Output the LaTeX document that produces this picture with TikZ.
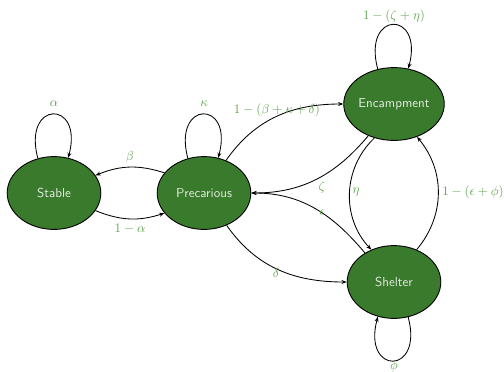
\documentclass[tikz,border=0pt]{standalone}
\usetikzlibrary{arrows.meta,shapes.geometric}
\definecolor{nodegreen}{RGB}{58,122,44}
\definecolor{labgreen}{RGB}{95,165,80}
\definecolor{nodetext}{RGB}{228,236,226}
\begin{document}
\begin{tikzpicture}[x=0.769pt,y=0.769pt,
  state/.style={ellipse, draw=black, line width=0.7pt, fill=nodegreen, text=nodetext,
    font=\sffamily, minimum width=72pt, minimum height=56pt, inner sep=0pt},
  tr/.style={-{Stealth[length=4pt,width=3pt]}, line width=0.65pt},
  lab/.style={text=labgreen, inner sep=1pt}]
\useasboundingbox (0,0) rectangle (504,-372);
% states
\node[state] (st) at (54,-193) {Stable};
\node[state] (pr) at (204,-193) {Precarious};
\node[state] (en) at (394,-104) {Encampment};
\node[state] (sh) at (394,-282) {Shelter};
% loops
\draw[tr] (st.115) to[out=105,in=75,looseness=5.1] (st.68);
\draw[tr] (pr.115) to[out=105,in=75,looseness=5.1] (pr.68);
\draw[tr] (en.115) to[out=105,in=75,looseness=5.1] (en.68);
\draw[tr] (sh.-68) to[out=-75,in=-105,looseness=5.1] (sh.-115);
% transitions
\draw[tr] (pr.153) to[bend right=20] (st.23);
\draw[tr] (st.-23) to[bend right=20] (pr.-153);
\draw[tr] (pr.56) to[out=55,in=180] (en.west);
\draw[tr] (en.231) to[out=230,in=0] (pr.east);
\draw[tr] (sh.135) to[out=130,in=0] (pr.east);
\draw[tr] (en.240) to[bend right=45] (sh.125);
\draw[tr] (sh.55) to[bend right=40] (en.-55);
\draw[tr] (pr.-55) to[out=-55,in=180] (sh.west);
% labels
\node[lab] (la) at (54,-104) {$\alpha$};
\node[lab] (lk) at (204,-104) {$\kappa$};
\node[lab] (lze) at (394,-16) {$1-(\zeta+\eta)$};
\node[lab] (lphi) at (394,-366) {$\phi$};
\node[lab] (lb) at (130,-157) {$\beta$};
\node[lab] (l1a) at (130,-229) {$1-\alpha$};
\node[lab] (lbkd) at (277,-110) {$1-(\beta+\kappa+\delta)$};
\node[lab] (lz) at (322,-187) {$\zeta$};
\node[lab] (le) at (322,-213) {$\epsilon$};
\node[lab] (lh) at (356,-192) {$\eta$};
\node[lab] (lep) at (473,-192) {$1-(\epsilon+\phi)$};
\node[lab] (ld) at (276,-273) {$\delta$};
\end{tikzpicture}
\end{document}
